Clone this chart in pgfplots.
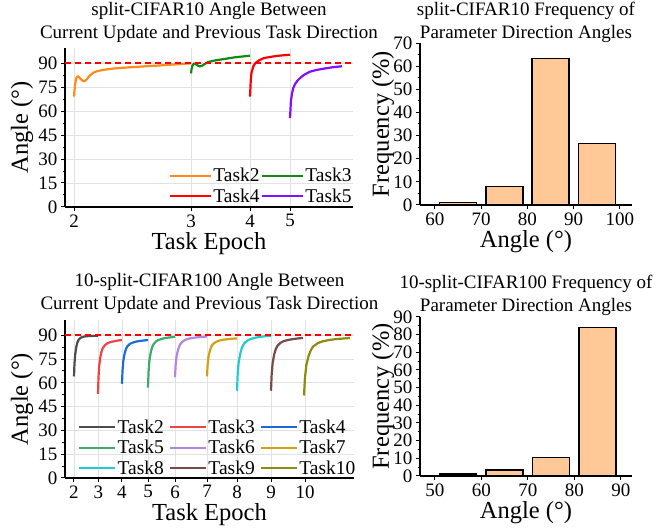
\documentclass[border=0pt]{standalone}
\usepackage{pgfplots}
\pgfplotsset{compat=1.18}
\usepackage{fontspec}
\setmainfont{Liberation Serif}
\definecolor{cOr}{HTML}{FF8C1A}
\definecolor{cGr}{HTML}{108A10}
\definecolor{cRd}{HTML}{FF0000}
\definecolor{cPu}{HTML}{8010FF}
\definecolor{bA}{HTML}{4D4D4D}
\definecolor{bB}{HTML}{EE4444}
\definecolor{bC}{HTML}{1E6BD6}
\definecolor{bD}{HTML}{3CAA6E}
\definecolor{bE}{HTML}{B584E0}
\definecolor{bF}{HTML}{D4A010}
\definecolor{bG}{HTML}{20CCCC}
\definecolor{bH}{HTML}{7A4A4A}
\definecolor{bI}{HTML}{8C8C10}
\definecolor{barfill}{HTML}{FFC896}
\definecolor{gridc}{HTML}{E2E2E2}
\pgfplotsset{
  every axis title shift=0pt,
  myaxis/.style={
    scale only axis,
    axis x line*=bottom, axis y line*=left,
    axis line style={line width=1.6pt, -},
    tick style={black, line width=1pt},
    tick align=outside,
    major tick length=4pt, minor tick length=2.5pt,
    ticklabel style={font=\fontsize{19}{19}\selectfont},
    /pgf/number format/assume math mode=true,
    xlabel style={font=\fontsize{24.5}{24.5}\selectfont, at={(axis description cs:0.5,0)}, anchor=base, yshift=-43pt},
    ylabel style={font=\fontsize{24.5}{24.5}\selectfont, anchor=center},
    title style={font=\fontsize{19}{23}\selectfont, align=center, at={(axis description cs:0.5,1)}, anchor=south, inner sep=0pt},
    minor y tick num=1,
  },
  lineaxis/.style={
    myaxis,
    ymin=0, ytick={0,15,30,45,60,75,90},
    grid=major, major grid style={gridc, line width=0.8pt},
    every axis plot/.append style={line width=2.2pt},
    legend style={draw=none, fill=none, font=\fontsize{19.5}{19.5}\selectfont, inner sep=0pt, row sep=3pt, nodes={inner sep=1.2pt}},
    legend cell align=left,
  },
  baraxis/.style={
    myaxis, ymin=0,
  },
}
\begin{document}
\begin{tikzpicture}
\useasboundingbox (0,0) rectangle (662pt,529pt);
% ---------- top left ----------
\begin{axis}[lineaxis,
  at={(65pt,322pt)}, anchor=south west, width=288pt, height=159pt,
  xmin=-9, xmax=279, ymax=99.4,
  xtick={0,117,176,216}, xticklabels={2,3,4,5},
  xlabel={Task Epoch}, ylabel={Angle (°)},
  ylabel style={at={(axis description cs:-0.149,0.5)}},
  title={split-CIFAR10 Angle Between\\Current Update and Previous Task Direction},
  title style={yshift=5pt},
  legend columns=2,
  legend style={at={(axis description cs:1,0)}, anchor=south east, yshift=2pt},
  legend image code/.code={\draw[#1] (0pt,0pt) -- (41pt,0pt);},
]
\addplot[cOr] coordinates {(0,69) (0.5,73) (1,76) (2,80) (3,81.4) (4.3,81.6) (6,80.5) (8,79.2) (10,78.6) (12,79.3) (14,80.8) (16,82.3) (19,83.8) (23,84.9) (30,85.8) (40,86.6) (55,87.3) (70,87.9) (86,88.5) (100,89.1) (117,89.8)};
\addlegendentry{Task2}
\addplot[cGr] coordinates {(117,83.5) (117.5,86) (118.5,88.5) (120,89.6) (122,89.3) (124,88.3) (126,87.9) (128,88.3) (131,89.5) (134,90.6) (140,91.5) (150,92.5) (160,93.5) (176,94.6)};
\addlegendentry{Task3}
\addplot[cRd] coordinates {(176,69) (176.4,74) (176.8,80) (177.5,84) (179.3,87.9) (181,89.7) (183.5,91) (186,92) (190,93.1) (196,93.8) (205,94.6) (216,95.2)};
\addlegendentry{Task4}
\addplot[cPu] coordinates {(216,55.6) (216.4,60) (216.9,66) (218,71) (219.3,74.4) (221,76.8) (223.5,79) (226,80.6) (230,82.6) (236,84.6) (242,85.6) (249,86.4) (258,87.3) (268,88)};
\addlegendentry{Task5}
\addplot[draw=cRd, color=cRd, line width=1.2pt, dash pattern=on 6pt off 4pt, forget plot] coordinates {(-9,90) (279,90)};
\end{axis}
% ---------- top right ----------
\begin{axis}[baraxis,
  at={(420pt,324pt)}, anchor=south west, width=212pt, height=162pt,
  xmin=56.76, xmax=102.6, ymax=70,
  xtick={60,70,80,90,100}, ytick={0,10,20,30,40,50,60,70},
  xlabel={Angle (°)}, ylabel={Frequency (\%)},
  ylabel style={at={(axis description cs:-0.175,0.5)}},
  title={split-CIFAR10 Frequency of\\Parameter Direction Angles},
  title style={yshift=0pt},
]
\addplot[ybar, bar width=8, fill=barfill, draw=black, line width=1.5pt] coordinates {(65,1.0) (75,8) (85,63.3) (95,26.6)};
\end{axis}
% ---------- bottom left ----------
\begin{axis}[lineaxis,
  at={(65pt,51pt)}, anchor=south west, width=289pt, height=158pt,
  xmin=-9, xmax=280, ymax=99.6,
  xtick={0,24.5,48,74,101,133,163,197,231}, xticklabels={2,3,4,5,6,7,8,9,10},
  xlabel={Task Epoch}, ylabel={Angle (°)},
  ylabel style={at={(axis description cs:-0.149,0.5)}},
  title={10-split-CIFAR100 Angle Between\\Current Update and Previous Task Direction},
  title style={yshift=6pt},
  legend columns=3,
  legend style={at={(axis description cs:0.045,0)}, anchor=south west, yshift=1pt, /tikz/every even column/.append style={column sep=4pt}},
  legend image code/.code={\draw[#1] (0pt,0pt) -- (36pt,0pt);},
]
\addplot[bA] coordinates {(0,64) (0.48,72) (1.2,78) (2.4,83) (3.6,85.8) (4.8,87.3) (7.2,88.6) (9.6,89.1) (13.2,89.4) (16.8,89.5) (20.4,89.6) (24,89.6)};
\addlegendentry{Task2}
\addplot[bB] coordinates {(24,53) (24.48,63.2) (25.2,70.7) (26.4,76.5) (27.6,79.9) (28.8,81.9) (31.2,83.9) (33.6,85.0) (37.2,85.8) (40.8,86.3) (44.4,86.7) (48,87)};
\addlegendentry{Task3}
\addplot[bC] coordinates {(48,59.4) (48.52,67.7) (49.3,73.8) (50.6,78.4) (51.9,81.2) (53.2,82.9) (55.8,84.5) (58.4,85.3) (62.3,86.0) (66.2,86.4) (70.1,86.7) (74,87.0)};
\addlegendentry{Task4}
\addplot[bD] coordinates {(74,57) (74.54,66.6) (75.35,73.6) (76.7,79.1) (78.05,82.3) (79.4,84.2) (82.1,86.1) (84.8,87.1) (88.85,87.9) (92.9,88.4) (96.95,88.7) (101,89)};
\addlegendentry{Task5}
\addplot[bE] coordinates {(101,63.5) (101.64,71.2) (102.6,76.9) (104.2,81.2) (105.8,83.8) (107.4,85.3) (110.6,86.9) (113.8,87.7) (118.6,88.3) (123.4,88.7) (128.2,88.9) (133,89.2)};
\addlegendentry{Task6}
\addplot[bF] coordinates {(133,64) (133.6,71.2) (134.5,76.5) (136,80.6) (137.5,83) (139,84.4) (142,85.8) (145,86.6) (149.5,87.2) (154,87.5) (158.5,87.8) (163,88)};
\addlegendentry{Task7}
\addplot[bG] coordinates {(163,55) (163.68,65.4) (164.7,73) (166.4,78.9) (168.1,82.4) (169.8,84.5) (173.2,86.6) (176.6,87.6) (181.7,88.5) (186.8,89) (191.9,89.4) (197,89.7)};
\addlegendentry{Task8}
\addplot[bH] coordinates {(197,55) (197.64,65) (198.6,72.3) (200.2,78) (201.8,81.3) (203.4,83.3) (206.6,85.3) (209.8,86.3) (214.6,87.1) (219.4,87.6) (224.2,88) (229,88.3)};
\addlegendentry{Task9}
\addplot[bI] coordinates {(230,52) (230.92,62.9) (232.3,70.9) (234.6,77) (236.9,80.7) (239.2,82.9) (243.8,85) (248.4,86.1) (255.3,87) (262.2,87.6) (269.1,87.9) (276,88.3)};
\addlegendentry{Task10}
\addplot[draw=red, color=red, line width=1.4pt, dash pattern=on 6pt off 4pt, forget plot] coordinates {(-9,90.05) (280,90.05)};
\end{axis}
% ---------- bottom right ----------
\begin{axis}[baraxis,
  at={(420pt,53pt)}, anchor=south west, width=212pt, height=159pt,
  xmin=46.8, xmax=92.4, ymax=90,
  xtick={50,60,70,80,90}, ytick={0,10,20,30,40,50,60,70,80,90},
  xlabel={Angle (°)}, ylabel={Frequency (\%)},
  ylabel style={at={(axis description cs:-0.175,0.5)}},
  title={10-split-CIFAR100 Frequency of\\Parameter Direction Angles},
  title style={yshift=1pt},
]
\addplot[ybar, bar width=8, fill=barfill, draw=black, line width=1.5pt] coordinates {(55,1.0) (65,3.4) (75,10.6) (85,84.1)};
\end{axis}
\end{tikzpicture}
\end{document}
